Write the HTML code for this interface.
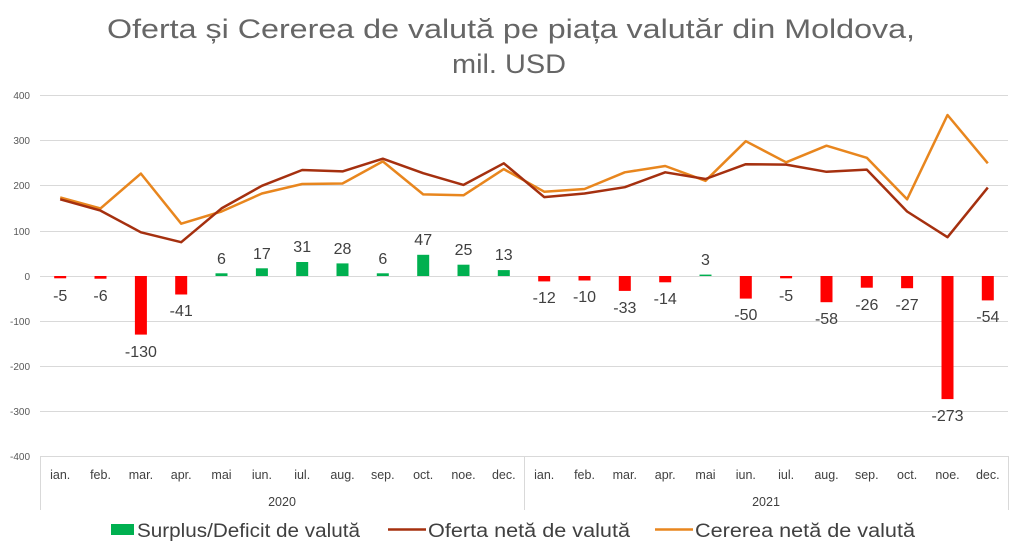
<!DOCTYPE html>
<html><head><meta charset="utf-8"><style>
body{margin:0;background:#fff;width:1023px;height:554px;overflow:hidden}
svg{display:block;font-family:"Liberation Sans",sans-serif}
</style></head><body>
<svg width="1023" height="554" viewBox="0 0 1023 554">
<g fill="#666666" font-size="27">
<text x="107" y="38" textLength="808" lengthAdjust="spacingAndGlyphs">Oferta și Cererea de valută pe piața valutăr din Moldova,</text>
<text x="452" y="73" textLength="114" lengthAdjust="spacingAndGlyphs">mil. USD</text>
</g>
<g stroke="#d9d9d9" stroke-width="1">
<line x1="40" y1="95.5" x2="1008" y2="95.5"/><line x1="40" y1="140.5" x2="1008" y2="140.5"/>
<line x1="40" y1="185.5" x2="1008" y2="185.5"/><line x1="40" y1="231.5" x2="1008" y2="231.5"/>
<line x1="40" y1="276.5" x2="1008" y2="276.5"/><line x1="40" y1="321.5" x2="1008" y2="321.5"/>
<line x1="40" y1="366.5" x2="1008" y2="366.5"/><line x1="40" y1="411.5" x2="1008" y2="411.5"/>
<line x1="40" y1="456.5" x2="1008" y2="456.5"/>
<line x1="40.5" y1="456" x2="40.5" y2="510"/><line x1="524.5" y1="456" x2="524.5" y2="510"/><line x1="1008.5" y1="456" x2="1008.5" y2="510"/>
</g>
<g fill="#595959" font-size="10" text-anchor="end">
<text x="30" y="99">400</text><text x="30" y="144">300</text><text x="30" y="189">200</text><text x="30" y="235">100</text>
<text x="30" y="280">0</text><text x="30" y="325">-100</text><text x="30" y="370">-200</text><text x="30" y="415">-300</text><text x="30" y="460">-400</text>
</g>
<g fill="#ff0000">
<rect x="54.2" y="276" width="12" height="2.3"/><rect x="94.5" y="276" width="12" height="2.7"/><rect x="134.9" y="276" width="12" height="58.6"/><rect x="175.2" y="276" width="12" height="18.5"/>
<rect x="538.2" y="276" width="12" height="5.4"/><rect x="578.5" y="276" width="12" height="4.5"/><rect x="618.8" y="276" width="12" height="14.9"/><rect x="659.2" y="276" width="12" height="6.3"/>
<rect x="739.8" y="276" width="12" height="22.6"/><rect x="780.1" y="276" width="12" height="2.3"/><rect x="820.5" y="276" width="12" height="26.2"/><rect x="860.8" y="276" width="12" height="11.7"/>
<rect x="901.1" y="276" width="12" height="12.2"/><rect x="941.5" y="276" width="12" height="123.1"/><rect x="981.8" y="276" width="12" height="24.4"/>
</g>
<g fill="#00b050">
<rect x="215.5" y="273.3" width="12" height="2.7"/><rect x="255.9" y="268.3" width="12" height="7.7"/><rect x="296.2" y="262" width="12" height="14"/><rect x="336.5" y="263.4" width="12" height="12.6"/>
<rect x="376.8" y="273.3" width="12" height="2.7"/><rect x="417.2" y="254.8" width="12" height="21.2"/><rect x="457.5" y="264.7" width="12" height="11.3"/><rect x="497.8" y="270.1" width="12" height="5.9"/>
<rect x="699.5" y="274.6" width="12" height="1.4"/>
</g>
<polyline fill="none" stroke="#e8861e" stroke-width="2.5" stroke-linejoin="round" points="60.2,197.5 100.5,208.4 140.9,173.6 181.2,223.7 221.5,211.5 261.9,193.5 302.2,184 342.5,183.5 382.8,161.4 423.2,194.4 463.5,195.3 503.8,169.1 544.2,191.7 584.5,189 624.8,172.3 665.2,166 705.5,180.8 745.8,141.2 786.1,162.3 826.5,145.7 866.8,157.8 907.1,199.3 947.5,115 987.8,163.3"/>
<polyline fill="none" stroke="#a5300f" stroke-width="2.5" stroke-linejoin="round" points="60.2,199.3 100.5,210.6 140.9,232.3 181.2,242.2 221.5,208.4 261.9,185.8 302.2,170 342.5,171.4 382.8,158.7 423.2,173.2 463.5,184.9 503.8,163.3 544.2,197.1 584.5,193.5 624.8,187.2 665.2,172.3 705.5,179 745.8,164.2 786.1,164.6 826.5,171.8 866.8,169.6 907.1,211.5 947.5,237.2 987.8,187.6"/>
<g fill="#404040" font-size="16" text-anchor="middle">
<text x="60.2" y="301">-5</text><text x="100.5" y="301">-6</text><text x="140.9" y="357">-130</text><text x="181.2" y="316">-41</text>
<text x="221.5" y="264">6</text><text x="261.9" y="259">17</text><text x="302.2" y="252">31</text><text x="342.5" y="254">28</text>
<text x="382.8" y="264">6</text><text x="423.2" y="245">47</text><text x="463.5" y="255">25</text><text x="503.8" y="260">13</text>
<text x="544.2" y="303">-12</text><text x="584.5" y="302">-10</text><text x="624.8" y="313">-33</text><text x="665.2" y="304">-14</text>
<text x="705.5" y="265">3</text><text x="745.8" y="320">-50</text><text x="786.1" y="301">-5</text><text x="826.5" y="324">-58</text>
<text x="866.8" y="310">-26</text><text x="907.1" y="310">-27</text><text x="947.5" y="421">-273</text><text x="987.8" y="322">-54</text>
</g>
<g fill="#404040" font-size="12.5" text-anchor="middle">
<text x="60.2" y="479">ian.</text><text x="100.5" y="479">feb.</text><text x="140.9" y="479">mar.</text><text x="181.2" y="479">apr.</text><text x="221.5" y="479">mai</text><text x="261.9" y="479">iun.</text>
<text x="302.2" y="479">iul.</text><text x="342.5" y="479">aug.</text><text x="382.8" y="479">sep.</text><text x="423.2" y="479">oct.</text><text x="463.5" y="479">noe.</text><text x="503.8" y="479">dec.</text>
<text x="544.2" y="479">ian.</text><text x="584.5" y="479">feb.</text><text x="624.8" y="479">mar.</text><text x="665.2" y="479">apr.</text><text x="705.5" y="479">mai</text><text x="745.8" y="479">iun.</text>
<text x="786.1" y="479">iul.</text><text x="826.5" y="479">aug.</text><text x="866.8" y="479">sep.</text><text x="907.1" y="479">oct.</text><text x="947.5" y="479">noe.</text><text x="987.8" y="479">dec.</text>
<text x="282" y="506">2020</text><text x="766" y="506">2021</text>
</g>
<rect x="111" y="524" width="23" height="11" fill="#00b050"/>
<line x1="388" y1="529.5" x2="426" y2="529.5" stroke="#a5300f" stroke-width="2.5"/>
<line x1="655" y1="529.5" x2="693" y2="529.5" stroke="#e8861e" stroke-width="2.5"/>
<g fill="#404040" font-size="19">
<text x="137" y="537" textLength="223" lengthAdjust="spacingAndGlyphs">Surplus/Deficit de valută</text>
<text x="428" y="537" textLength="202" lengthAdjust="spacingAndGlyphs">Oferta netă de valută</text>
<text x="695" y="537" textLength="220" lengthAdjust="spacingAndGlyphs">Cererea netă de valută</text>
</g>
</svg>
</body></html>
